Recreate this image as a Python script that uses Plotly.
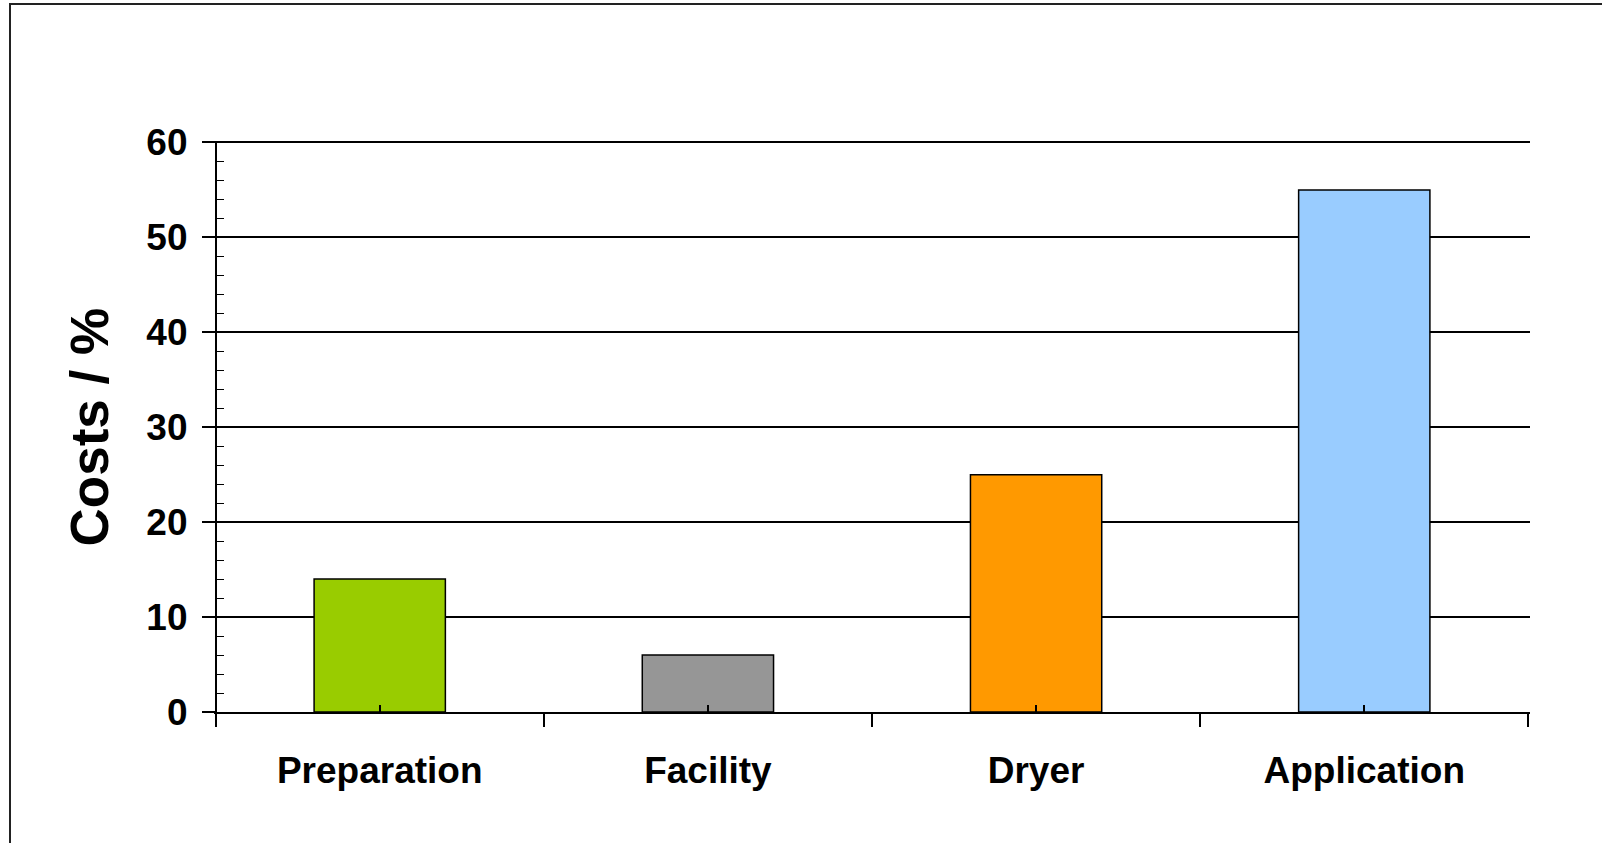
import plotly.graph_objects as go

categories = ["Preparation", "Facility", "Dryer", "Application"]
costs = [14, 6, 25, 55]
colors = ["#99CC00", "#969696", "#FF9900", "#99CCFF"]
y_ticks = [0, 10, 20, 30, 40, 50, 60]

W, H = 1602, 843
ML, MR, MT, MB = 214, 72, 141, 131
pw, ph = W - ML - MR, H - MT - MB

def px_x(p):
    return (p - ML) / pw

def px_y(p):
    return (H - MB - p) / ph

font = dict(family="Liberation Sans, Arial, sans-serif", color="black", weight="bold")
xpos = list(range(len(categories)))
x_lo, x_hi = -0.505, len(categories) - 0.495

fig = go.Figure(go.Bar(
    x=xpos, y=costs, width=0.4,
    marker=dict(color=colors, line=dict(color="black", width=1.5)),
))

fig.update_layout(
    width=W, height=H,
    margin=dict(l=ML, r=MR, t=MT, b=MB, autoexpand=False),
    paper_bgcolor="white", plot_bgcolor="white",
    showlegend=False,
    xaxis=dict(
        range=[x_lo, x_hi],
        tickmode="array", tickvals=xpos, ticktext=categories,
        ticks="inside", ticklen=7, tickwidth=1.5, tickcolor="black",
        tickfont=dict(size=37, **font), ticklabelstandoff=25,
        showgrid=False, zeroline=False,
        showline=True, linecolor="black", linewidth=1.5,
        minor=dict(tick0=0.5, dtick=1, ticks="outside", ticklen=13,
                   tickwidth=1.5, tickcolor="black", showgrid=False),
    ),
    yaxis=dict(
        range=[0, 60.15],
        anchor="free", position=(-0.5 - x_lo) / (x_hi - x_lo),
        tickmode="array", tickvals=y_ticks,
        ticks="outside", ticklen=13, tickwidth=1.5, tickcolor="black",
        tickfont=dict(size=37, **font), ticklabelstandoff=7,
        showgrid=True, gridcolor="black", gridwidth=1.5,
        zeroline=False,
        showline=True, linecolor="black", linewidth=1.5,
        minor=dict(tick0=0, dtick=2, ticks="inside", ticklen=8,
                   tickwidth=1.2, tickcolor="black", showgrid=False),
    ),
    annotations=[dict(
        text="Costs / %", textangle=-90, showarrow=False,
        xref="paper", yref="paper", x=px_x(89), y=0.5,
        xanchor="center", yanchor="middle",
        font=dict(size=53, **font),
    )],
    shapes=[dict(
        type="path", xref="paper", yref="paper",
        path=f"M {px_x(10)},{px_y(H+5)} L {px_x(10)},{px_y(4)} L {px_x(W+5)},{px_y(4)}",
        line=dict(color="#222222", width=2),
    )],
)

fig.write_html("out.html")
